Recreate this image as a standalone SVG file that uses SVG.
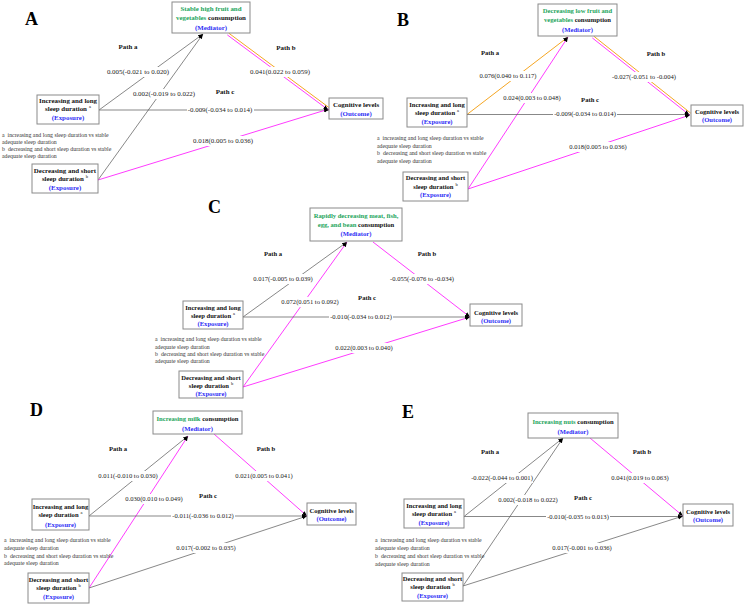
<svg xmlns="http://www.w3.org/2000/svg" width="744" height="605" viewBox="0 0 744 605">
<style>
text{font-family:"Liberation Serif","Times New Roman",serif}
.box{fill:#fff;stroke:#8a8a8a;stroke-width:1}
.nt{font-weight:bold;font-size:6.6px;text-anchor:middle;fill:#111}
.pa .nt,.pa .lbl{font-size:6.9px}
.g{fill:#24a55c}
.b{fill:#2f2ff5}
.sup{font-size:4.5px;font-weight:normal}
.lbl{font-size:6.6px;text-anchor:middle;fill:#222}
.pt{font-weight:bold;fill:#111}
.fn{font-size:5.8px;fill:#333}
.bg{fill:#fff}
.ln{stroke:#555;stroke-width:0.7;fill:none}
.mg{stroke:#ff3cff;stroke-width:1;fill:none}
.or{stroke:#f5a623;stroke-width:1;fill:none}
.letter{font-size:18px;font-weight:bold;fill:#000}
</style>
<defs>
<marker id="ah" viewBox="0 0 10 10" refX="10" refY="5" markerWidth="5" markerHeight="5" markerUnits="userSpaceOnUse" orient="auto"><path d="M0,1 L10,5 L0,9 z" fill="#000"/></marker>
</defs>
<rect width="744" height="605" fill="#fff"/>

<!-- ================= PANEL A ================= -->
<g id="panelA" class="pa">
<text class="letter" x="25" y="25">A</text>
<g id="A-connectors">
<line class="ln" x1="99" y1="110" x2="203" y2="34" marker-end="url(#ah)"/>
<line class="ln" x1="98" y1="180" x2="203" y2="34" marker-end="url(#ah)"/>
<line class="ln" x1="99" y1="110" x2="329" y2="110" marker-end="url(#ah)"/>
<line class="mg" x1="98" y1="180" x2="329" y2="109" marker-end="url(#ah)"/>
<line class="or" x1="228.7" y1="33.1" x2="329.7" y2="108.1"/>
<line class="mg" x1="227.3" y1="34.9" x2="328.3" y2="109.9" marker-end="url(#ah)"/>
<rect class="bg" x="106" y="67" width="64" height="10"/><text class="lbl" x="138" y="74.3">0.005(-0.021 to 0.020)</text>
<rect class="bg" x="132" y="89" width="64" height="10"/><text class="lbl" x="164" y="96.3">0.002(-0.019 to 0.022)</text>
<rect class="bg" x="187" y="105" width="67" height="10"/><text class="lbl" x="220" y="112.3">-0.009(-0.034 to 0.014)</text>
<rect class="bg" x="249" y="67" width="62" height="10"/><text class="lbl" x="280" y="74.3">0.041(0.022 to 0.059)</text>
<rect class="bg" x="192" y="136" width="62" height="10"/><text class="lbl" x="223" y="143.3">0.018(0.005 to 0.036)</text>
<text class="lbl pt" x="128" y="49">Path a</text>
<text class="lbl pt" x="286" y="50">Path b</text>
<text class="lbl pt" x="225" y="94">Path c</text>
</g>
<g id="A-mediator">
<rect class="box" x="172" y="2" width="78" height="31"/>
<text class="nt" x="211" y="11"><tspan class="g">Stable high fruit and</tspan></text>
<text class="nt" x="211" y="20"><tspan class="g">vegetables</tspan> consumption</text>
<text class="nt b" x="211" y="29.5">(Mediator)</text>
</g>
<g id="A-exposure1">
<rect class="box" x="37" y="95" width="62" height="29"/>
<text class="nt" x="68" y="103">Increasing and long</text>
<text class="nt" x="68" y="111">sleep duration<tspan class="sup" dx="2" dy="-3">a</tspan></text>
<text class="nt b" x="68" y="120">(Exposure)</text>
</g>
<g id="A-exposure2">
<rect class="box" x="32" y="164" width="66" height="29"/>
<text class="nt" x="65" y="173">Decreasing and short</text>
<text class="nt" x="65" y="181">sleep duration<tspan class="sup" dx="2" dy="-3">b</tspan></text>
<text class="nt b" x="65" y="190">(Exposure)</text>
</g>
<g id="A-outcome">
<rect class="box" x="329" y="98" width="54" height="21"/>
<text class="nt" x="356" y="106.5">Cognitive levels</text>
<text class="nt b" x="356" y="115.5">(Outcome)</text>
</g>
<g id="A-note" class="fn">
<text x="2" y="137">a<tspan dx="3">increasing and long sleep duration vs stable</tspan></text>
<text x="2" y="144">adequate sleep duration</text>
<text x="2" y="151">b<tspan dx="3">decreasing and short sleep duration vs stable</tspan></text>
<text x="2" y="158">adequate sleep duration</text>
</g>
</g>

<!-- ================= PANEL B ================= -->
<g id="panelB">
<text class="letter" x="397" y="26">B</text>
<g id="B-connectors">
<line class="or" x1="467" y1="114.5" x2="568" y2="37" marker-end="url(#ah)"/>
<line class="mg" x1="468" y1="189" x2="568" y2="37" marker-end="url(#ah)"/>
<line class="ln" x1="467" y1="114.5" x2="690" y2="114.5" marker-end="url(#ah)"/>
<line class="mg" x1="468" y1="189" x2="690" y2="115" marker-end="url(#ah)"/>
<line class="or" x1="593.7" y1="36.1" x2="690.7" y2="113.1"/>
<line class="mg" x1="592.3" y1="37.9" x2="689.3" y2="114.9" marker-end="url(#ah)"/>
<rect class="bg" x="478" y="71" width="60" height="10"/><text class="lbl" x="508" y="78.3">0.076(0.040 to 0.117)</text>
<rect class="bg" x="502" y="93" width="60" height="10"/><text class="lbl" x="532" y="100.3">0.024(0.003 to 0.048)</text>
<rect class="bg" x="611" y="72" width="66" height="10"/><text class="lbl" x="644" y="79.3">-0.027(-0.051 to -0.004)</text>
<rect class="bg" x="553" y="109" width="64" height="10"/><text class="lbl" x="585" y="116.3">-0.009(-0.034 to 0.014)</text>
<rect class="bg" x="568" y="142" width="60" height="10"/><text class="lbl" x="598" y="149.3">0.018(0.005 to 0.036)</text>
<text class="lbl pt" x="490" y="55.3">Path a</text>
<text class="lbl pt" x="656" y="56.3">Path b</text>
<text class="lbl pt" x="590" y="102.3">Path c</text>
</g>
<g id="B-mediator">
<rect class="box" x="538" y="4" width="79" height="32"/>
<text class="nt" x="577.5" y="12.5"><tspan class="g">Decreasing low fruit and</tspan></text>
<text class="nt" x="577.5" y="21.5"><tspan class="g">vegetables</tspan> consumption</text>
<text class="nt b" x="577.5" y="31.5">(Mediator)</text>
</g>
<g id="B-exposure1">
<rect class="box" x="407" y="98" width="60" height="29"/>
<text class="nt" x="437" y="106.5">Increasing and long</text>
<text class="nt" x="437" y="114.5">sleep duration<tspan class="sup" dx="2" dy="-3">a</tspan></text>
<text class="nt b" x="437" y="124">(Exposure)</text>
</g>
<g id="B-exposure2">
<rect class="box" x="403" y="172" width="65" height="29"/>
<text class="nt" x="435.5" y="180">Decreasing and short</text>
<text class="nt" x="435.5" y="188.5">sleep duration<tspan class="sup" dx="2" dy="-3">b</tspan></text>
<text class="nt b" x="435.5" y="197">(Exposure)</text>
</g>
<g id="B-outcome">
<rect class="box" x="691" y="105" width="52" height="21"/>
<text class="nt" x="717" y="113.5">Cognitive levels</text>
<text class="nt b" x="717" y="122">(Outcome)</text>
</g>
<g id="B-note" class="fn">
<text x="377" y="140">a<tspan dx="3">increasing and long sleep duration vs stable</tspan></text>
<text x="377" y="147.5">adequate sleep duration</text>
<text x="377" y="155">b<tspan dx="3">decreasing and short sleep duration vs stable</tspan></text>
<text x="377" y="162.5">adequate sleep duration</text>
</g>
</g>

<!-- ================= PANEL C ================= -->
<g id="panelC">
<text class="letter" x="208" y="213">C</text>
<g id="C-connectors">
<line class="ln" x1="243" y1="317" x2="347" y2="242" marker-end="url(#ah)"/>
<line class="mg" x1="243" y1="387" x2="347" y2="242" marker-end="url(#ah)"/>
<line class="ln" x1="243" y1="317" x2="470" y2="317" marker-end="url(#ah)"/>
<line class="mg" x1="243" y1="387" x2="470" y2="317" marker-end="url(#ah)"/>
<line class="mg" x1="373" y1="242" x2="470" y2="317" marker-end="url(#ah)"/>
<rect class="bg" x="252" y="274" width="62" height="10"/><text class="lbl" x="283" y="281.3">0.017(-0.005 to 0.039)</text>
<rect class="bg" x="280" y="297" width="60" height="10"/><text class="lbl" x="310" y="304.3">0.072(0.051 to 0.092)</text>
<rect class="bg" x="389" y="274" width="66" height="10"/><text class="lbl" x="422" y="281.3">-0.055(-0.076 to -0.034)</text>
<rect class="bg" x="329" y="312" width="64" height="10"/><text class="lbl" x="361" y="319.3">-0.010(-0.034 to 0.012)</text>
<rect class="bg" x="334" y="343" width="60" height="10"/><text class="lbl" x="364" y="350.3">0.022(0.003 to 0.040)</text>
<text class="lbl pt" x="273" y="256.3">Path a</text>
<text class="lbl pt" x="427" y="256.3">Path b</text>
<text class="lbl pt" x="367" y="300.3">Path c</text>
</g>
<g id="C-mediator">
<rect class="box" x="310" y="208" width="92" height="33"/>
<text class="nt" x="356" y="217.5"><tspan class="g">Rapidly decreasing meat, fish,</tspan></text>
<text class="nt" x="356" y="226.5"><tspan class="g">egg, and bean</tspan> consumption</text>
<text class="nt b" x="356" y="236">(Mediator)</text>
</g>
<g id="C-exposure1">
<rect class="box" x="183" y="301" width="60" height="28"/>
<text class="nt" x="213" y="309.5">Increasing and long</text>
<text class="nt" x="213" y="317.5">sleep duration<tspan class="sup" dx="2" dy="-3">a</tspan></text>
<text class="nt b" x="213" y="325.5">(Exposure)</text>
</g>
<g id="C-exposure2">
<rect class="box" x="179" y="371" width="64" height="27"/>
<text class="nt" x="211" y="380">Decreasing and short</text>
<text class="nt" x="211" y="388">sleep duration<tspan class="sup" dx="2" dy="-3">b</tspan></text>
<text class="nt b" x="211" y="396">(Exposure)</text>
</g>
<g id="C-outcome">
<rect class="box" x="470" y="304" width="52" height="22"/>
<text class="nt" x="496" y="314.5">Cognitive levels</text>
<text class="nt b" x="496" y="322.5">(Outcome)</text>
</g>
<g id="C-note" class="fn">
<text x="155" y="340.5">a<tspan dx="3">increasing and long sleep duration vs stable</tspan></text>
<text x="155" y="348.5">adequate sleep duration</text>
<text x="155" y="355.5">b<tspan dx="3">decreasing and short sleep duration vs stable</tspan></text>
<text x="155" y="363">adequate sleep duration</text>
</g>
</g>

<!-- ================= PANEL D ================= -->
<g id="panelD">
<text class="letter" x="30" y="416">D</text>
<g id="D-connectors">
<line class="ln" x1="89" y1="516" x2="188" y2="436" marker-end="url(#ah)"/>
<line class="mg" x1="89" y1="588" x2="188" y2="436" marker-end="url(#ah)"/>
<line class="ln" x1="89" y1="516" x2="307" y2="516" marker-end="url(#ah)"/>
<line class="ln" x1="89" y1="588" x2="307" y2="516" marker-end="url(#ah)"/>
<line class="mg" x1="214" y1="434" x2="307" y2="516" marker-end="url(#ah)"/>
<rect class="bg" x="97" y="471" width="61" height="10"/><text class="lbl" x="128" y="478.3">0.011(-0.010 to 0.030)</text>
<rect class="bg" x="124" y="494" width="60" height="10"/><text class="lbl" x="154" y="501.3">0.030(0.010 to 0.049)</text>
<rect class="bg" x="234" y="471" width="60" height="10"/><text class="lbl" x="264" y="478.3">0.021(0.005 to 0.041)</text>
<rect class="bg" x="171" y="511" width="64" height="10"/><text class="lbl" x="203" y="518.3">-0.011(-0.036 to 0.012)</text>
<rect class="bg" x="175" y="543" width="62" height="10"/><text class="lbl" x="206" y="550.3">0.017(-0.002 to 0.035)</text>
<text class="lbl pt" x="118" y="451.3">Path a</text>
<text class="lbl pt" x="266" y="451.3">Path b</text>
<text class="lbl pt" x="208" y="498.3">Path c</text>
</g>
<g id="D-mediator">
<rect class="box" x="153" y="411" width="89" height="23"/>
<text class="nt" x="197.5" y="420.5"><tspan class="g">Increasing milk</tspan> consumption</text>
<text class="nt b" x="197.5" y="430.5">(Mediator)</text>
</g>
<g id="D-exposure1">
<rect class="box" x="32" y="499" width="57" height="31"/>
<text class="nt" x="60.5" y="508.5">Increasing and long</text>
<text class="nt" x="60.5" y="517">sleep duration<tspan class="sup" dx="2" dy="-3">a</tspan></text>
<text class="nt b" x="60.5" y="527">(Exposure)</text>
</g>
<g id="D-exposure2">
<rect class="box" x="28" y="573" width="61" height="30"/>
<text class="nt" x="58.5" y="581.5">Decreasing and short</text>
<text class="nt" x="58.5" y="590">sleep duration<tspan class="sup" dx="2" dy="-3">b</tspan></text>
<text class="nt b" x="58.5" y="599">(Exposure)</text>
</g>
<g id="D-outcome">
<rect class="box" x="307" y="503" width="49" height="22"/>
<text class="nt" x="331.5" y="512.5">Cognitive levels</text>
<text class="nt b" x="331.5" y="520.5">(Outcome)</text>
</g>
<g id="D-note" class="fn">
<text x="4" y="541.5">a<tspan dx="3">increasing and long sleep duration vs stable</tspan></text>
<text x="4" y="549.5">adequate sleep duration</text>
<text x="4" y="557.5">b<tspan dx="3">decreasing and short sleep duration vs stable</tspan></text>
<text x="4" y="565">adequate sleep duration</text>
</g>
</g>

<!-- ================= PANEL E ================= -->
<g id="panelE">
<text class="letter" x="402" y="418">E</text>
<g id="E-connectors">
<line class="ln" x1="464" y1="516.5" x2="563" y2="438" marker-end="url(#ah)"/>
<line class="ln" x1="463" y1="586" x2="563" y2="438" marker-end="url(#ah)"/>
<line class="ln" x1="464" y1="516.5" x2="683" y2="516.5" marker-end="url(#ah)"/>
<line class="ln" x1="463" y1="586" x2="683" y2="516" marker-end="url(#ah)"/>
<line class="mg" x1="590" y1="438" x2="683" y2="516" marker-end="url(#ah)"/>
<rect class="bg" x="470" y="473" width="63" height="10"/><text class="lbl" x="502" y="480.3">-0.022(-0.044 to 0.001)</text>
<rect class="bg" x="497" y="495" width="62" height="10"/><text class="lbl" x="528" y="502.3">0.002(-0.018 to 0.022)</text>
<rect class="bg" x="610" y="473" width="60" height="10"/><text class="lbl" x="640" y="480.3">0.041(0.019 to 0.063)</text>
<rect class="bg" x="546" y="512" width="64" height="10"/><text class="lbl" x="578" y="519.3">-0.010(-0.035 to 0.013)</text>
<rect class="bg" x="551" y="543" width="62" height="10"/><text class="lbl" x="582" y="550.3">0.017(-0.001 to 0.036)</text>
<text class="lbl pt" x="490" y="454.3">Path a</text>
<text class="lbl pt" x="642" y="454.3">Path b</text>
<text class="lbl pt" x="583" y="500.3">Path c</text>
</g>
<g id="E-mediator">
<rect class="box" x="528" y="413" width="90" height="25"/>
<text class="nt" x="573" y="424"><tspan class="g">Increasing nuts</tspan> consumption</text>
<text class="nt b" x="573" y="433.5">(Mediator)</text>
</g>
<g id="E-exposure1">
<rect class="box" x="404" y="499" width="60" height="29"/>
<text class="nt" x="434" y="507.5">Increasing and long</text>
<text class="nt" x="434" y="516">sleep duration<tspan class="sup" dx="2" dy="-3">a</tspan></text>
<text class="nt b" x="434" y="525">(Exposure)</text>
</g>
<g id="E-exposure2">
<rect class="box" x="402" y="573" width="61" height="28"/>
<text class="nt" x="432.5" y="580.5">Decreasing and short</text>
<text class="nt" x="432.5" y="589">sleep duration<tspan class="sup" dx="2" dy="-3">b</tspan></text>
<text class="nt b" x="432.5" y="597.5">(Exposure)</text>
</g>
<g id="E-outcome">
<rect class="box" x="683" y="504" width="50" height="22"/>
<text class="nt" x="708" y="513.5">Cognitive levels</text>
<text class="nt b" x="708" y="521.5">(Outcome)</text>
</g>
<g id="E-note" class="fn">
<text x="375" y="542">a<tspan dx="3">increasing and long sleep duration vs stable</tspan></text>
<text x="375" y="549.5">adequate sleep duration</text>
<text x="375" y="558">b<tspan dx="3">decreasing and short sleep duration vs stable</tspan></text>
<text x="375" y="565.5">adequate sleep duration</text>
</g>
</g>
</svg>
